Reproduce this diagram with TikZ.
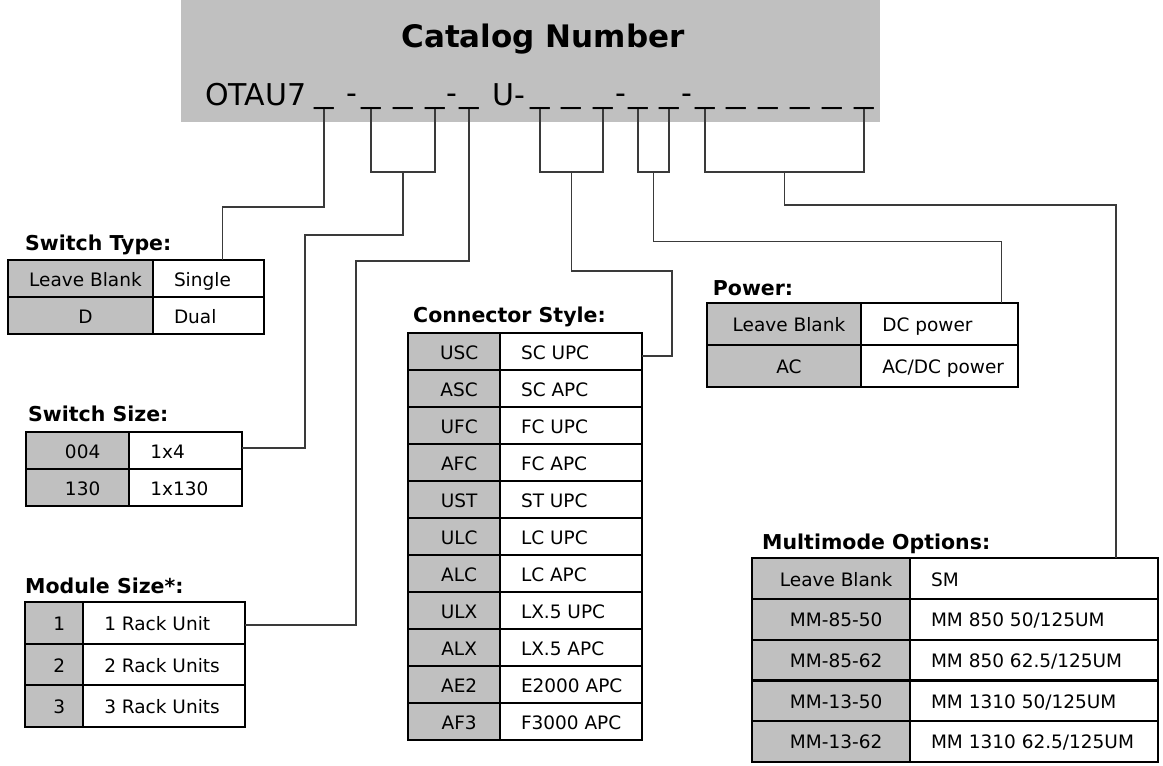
\documentclass[tikz,border=0pt]{standalone}
\usepackage{fontspec}
\setmainfont{DejaVu Sans}
\usepackage{graphicx}
\usetikzlibrary{calc}
\definecolor{tgray}{HTML}{C0C0C0}
\definecolor{lgray}{HTML}{3A3A3A}
\newcommand\trow[7]{%
  \node[gcell, minimum width=#3, minimum height=#5] (#1a) at (#2) {\makebox[#3pt][c]{\hspace*{10pt}#6}};
  \node[wcell, minimum width=#4, minimum height=#5] (#1b) at (#1a.north east) {\makebox[#4pt][l]{\hspace*{21pt}#7}};
}
\begin{document}
\begin{tikzpicture}[x=1pt,y=-1pt,
  conn/.style={draw=lgray, line width=1.4pt},
  cellbase/.style={draw=black, line width=2.2pt, inner sep=0pt, outer sep=0pt, anchor=north west,
    text height=18pt, text depth=3pt, font=\fontsize{18.5}{20}\selectfont},
  gcell/.style={cellbase, fill=tgray},
  wcell/.style={cellbase, fill=white},
  head/.style={anchor=base west, inner sep=0pt, font=\bfseries\fontsize{20.5}{22}\selectfont},
  us/.style={inner sep=0pt, outer sep=0pt, anchor=base, font=\fontsize{30}{32}\selectfont},
  cat/.style={inner sep=0pt, anchor=base west, font=\fontsize{30}{32}\selectfont},
]
\useasboundingbox (0,0) rectangle (1163,766);

% header
\node[fill=tgray, minimum width=699, minimum height=122, anchor=north west, inner sep=0pt, outer sep=0pt] (hdr) at (181,0) {};
\node[inner sep=0pt, anchor=base, font=\bfseries\fontsize{31}{33}\selectfont] (title) at (543,47) {Catalog Number};
\node[cat] (c1) at (205,105) {OTAU7};
\node[cat] (c2) at (492,105) {U-};
\node[us] (d1) at (351.5,103) {-};
\node[us] (d2) at (451.5,103) {-};
\node[us] (d3) at (620.5,103) {-};
\node[us] (d4) at (687,103) {-};
\foreach \i/\x in {1/324,2/371,3/403,4/435,5/469,6/540,7/571,8/603,9/638,10/669,11/705,12/736,13/768,14/800,15/832,16/864}
  \node[us] (u\i) at (\x,102) {\scalebox{1.3}[1]{\_}};

% Switch Type
\node[head] (hst) at (25,250.5) {Switch Type:};
\trow{st1}{8,260}{145}{111}{37}{Leave Blank}{Single}
\trow{st2}{st1a.south west}{145}{111}{37}{D}{Dual}

% Switch Size
\node[head] (hss) at (28,421) {Switch Size:};
\trow{ss1}{26,432.3}{103.3}{113}{37}{004}{1x4}
\trow{ss2}{ss1a.south west}{103.3}{113}{37}{130}{1x130}

% Module Size
\node[head] (hms) at (25,593.3) {Module Size*:};
\trow{ms1}{25,602.3}{58.3}{161.7}{41.5}{1}{1 Rack Unit}
\trow{ms2}{ms1a.south west}{58.3}{161.7}{41.5}{2}{2 Rack Units}
\trow{ms3}{ms2a.south west}{58.3}{161.7}{41.5}{3}{3 Rack Units}

% Connector Style
\node[head] (hcs) at (413,322.7) {Connector Style:};
\trow{cs1}{408.3,333.3}{91.7}{141.7}{37}{USC}{SC UPC}
\trow{cs2}{cs1a.south west}{91.7}{141.7}{37}{ASC}{SC APC}
\trow{cs3}{cs2a.south west}{91.7}{141.7}{37}{UFC}{FC UPC}
\trow{cs4}{cs3a.south west}{91.7}{141.7}{37}{AFC}{FC APC}
\trow{cs5}{cs4a.south west}{91.7}{141.7}{37}{UST}{ST UPC}
\trow{cs6}{cs5a.south west}{91.7}{141.7}{37}{ULC}{LC UPC}
\trow{cs7}{cs6a.south west}{91.7}{141.7}{37}{ALC}{LC APC}
\trow{cs8}{cs7a.south west}{91.7}{141.7}{37}{ULX}{LX.5 UPC}
\trow{cs9}{cs8a.south west}{91.7}{141.7}{37}{ALX}{LX.5 APC}
\trow{cs10}{cs9a.south west}{91.7}{141.7}{37}{AE2}{E2000 APC}
\trow{cs11}{cs10a.south west}{91.7}{141.7}{37}{AF3}{F3000 APC}

% Power
\node[head] (hpw) at (712.7,295) {Power:};
\trow{pw1}{706.7,303.3}{154.6}{157}{42}{Leave Blank}{DC power}
\trow{pw2}{pw1a.south west}{154.6}{157}{42}{AC}{AC/DC power}

% Multimode
\node[head] (hmm) at (762,549) {Multimode Options:};
\trow{mm1}{752.3,558.3}{157.7}{247.7}{40.7}{Leave Blank}{SM}
\trow{mm2}{mm1a.south west}{157.7}{247.7}{40.7}{MM-85-50}{MM 850 50/125UM}
\trow{mm3}{mm2a.south west}{157.7}{247.7}{40.7}{MM-85-62}{MM 850 62.5/125UM}
\trow{mm4}{mm3a.south west}{157.7}{247.7}{40.7}{MM-13-50}{MM 1310 50/125UM}
\trow{mm5}{mm4a.south west}{157.7}{247.7}{40.7}{MM-13-62}{MM 1310 62.5/125UM}

% brackets
\draw[conn] (u2.south) |- (u4.south |- 0,172) -- (u4.south);
\draw[conn] (u6.south) |- (u8.south |- 0,172) -- (u8.south);
\draw[conn] (u9.south) |- (u10.south |- 0,172) -- (u10.south);
\draw[conn] (u11.south) |- (u16.south |- 0,172) -- (u16.south);
\coordinate (m1) at ($(u2.south)!0.5!(u4.south)$);
\coordinate (m2) at ($(u6.south)!0.5!(u8.south)$);
\coordinate (m3) at ($(u9.south)!0.5!(u10.south)$);
\coordinate (m4) at ($(u11.south)!0.5!(u16.south)$);

% connectors
\draw[conn] (u1.south) |- (222.7,207) -- (st1b.north -| 222.7,0);
\draw[conn] (m1 |- 0,172) |- (305,235) |- ([yshift=3pt]ss1b.east);
\draw[conn] (u5.south) |- (356,261) |- ([yshift=-2pt]ms1b.east);
\draw[conn] (m2 |- 0,172) |- (672,271) |- ([yshift=-4pt]cs1b.east);
\draw[conn] (m3 |- 0,172) |- (1001.7,241.7) -- (pw1b.north -| 1001.7,0);
\draw[conn] (m4 |- 0,172) |- (1116,205) -- (mm1b.north -| 1116,0);
\end{tikzpicture}
\end{document}
